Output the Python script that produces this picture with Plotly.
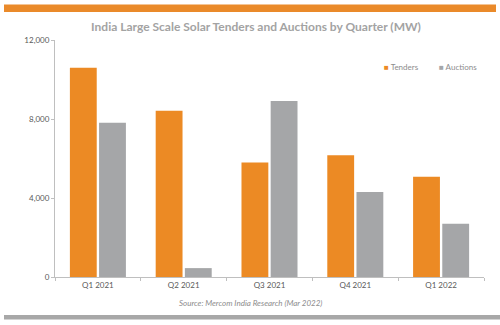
import plotly.graph_objects as go

quarters = ["Q1 2021", "Q2 2021", "Q3 2021", "Q4 2021", "Q1 2022"]
tenders = [10600, 8420, 5800, 6170, 5070]
auctions = [7810, 450, 8910, 4300, 2690]
y_ticks = [0, 4000, 8000, 12000]
y_tick_labels = ["0", "4,000", "8,000", "12,000"]

ORANGE = "#EC8A24"
GRAY = "#A5A6A8"
FONT = "Lato"

W, H = 500, 325
L, R, T, B = 55, 16, 40, 48
pw, ph = W - L - R, H - T - B


def px_x(x):
    return (x - L) / pw


def px_y(y):
    return (H - B - y) / ph


fig = go.Figure()
fig.add_trace(go.Bar(x=quarters, y=tenders, name="Tenders",
                     marker=dict(color=ORANGE, line=dict(width=0))))
fig.add_trace(go.Bar(x=quarters, y=auctions, name="Auctions",
                     marker=dict(color=GRAY, line=dict(width=0))))

fig.update_layout(
    width=W, height=H,
    margin=dict(l=L, r=R, t=T, b=B, pad=0),
    paper_bgcolor="white", plot_bgcolor="white",
    barmode="group", bargap=0.32, bargroupgap=0.08,
    showlegend=False,
    font=dict(family=FONT, color="#595959", size=8),
    title=dict(
        text="<b>India Large Scale Solar Tenders and Auctions by Quarter (MW)</b>",
        x=0.512, xanchor="center", y=1 - 27 / H, yanchor="middle",
        font=dict(family=FONT, size=12, color="#A3A3A3"),
    ),
)

fig.update_xaxes(
    showline=True, linecolor="#BFBFBF", linewidth=1,
    ticks="outside", tickson="boundaries", ticklen=3, tickcolor="#BFBFBF",
    tickfont=dict(size=8, color="#595959"),
    showgrid=False, zeroline=False,
)
fig.update_yaxes(
    range=[0, 12000], tickvals=y_ticks, ticktext=y_tick_labels,
    showline=True, linecolor="#BFBFBF", linewidth=1,
    ticks="outside", ticklen=3, tickcolor="#BFBFBF",
    tickfont=dict(size=8, color="#595959"),
    showgrid=False, zeroline=False,
)

# Header and footer bands
fig.add_shape(type="rect", xref="paper", yref="paper",
              x0=px_x(4), x1=px_x(496), y0=px_y(12), y1=px_y(4.5),
              fillcolor="#EA8A2A", line=dict(width=0), layer="above")
fig.add_shape(type="rect", xref="paper", yref="paper",
              x0=px_x(4), x1=px_x(500), y0=px_y(319.5), y1=px_y(315),
              fillcolor="#A8A8A8", line=dict(width=0), layer="above")

# Legend entries
fig.add_annotation(
    xref="paper", yref="paper", x=px_x(382), y=px_y(67),
    xanchor="left", yanchor="middle", showarrow=False,
    text=f"<span style='color:{ORANGE}'>■</span> Tenders",
    font=dict(family=FONT, size=8, color="#8C8C8C"),
)
fig.add_annotation(
    xref="paper", yref="paper", x=px_x(437), y=px_y(67),
    xanchor="left", yanchor="middle", showarrow=False,
    text=f"<span style='color:{GRAY}'>■</span> Auctions",
    font=dict(family=FONT, size=8, color="#8C8C8C"),
)

# Source note
fig.add_annotation(
    xref="paper", yref="paper", x=px_x(250), y=px_y(303),
    xanchor="center", yanchor="middle", showarrow=False,
    text="<i>Source: Mercom India Research (Mar 2022)</i>",
    font=dict(family=FONT, size=8, color="#8C8C8C"),
)

fig.write_html("out.html")
